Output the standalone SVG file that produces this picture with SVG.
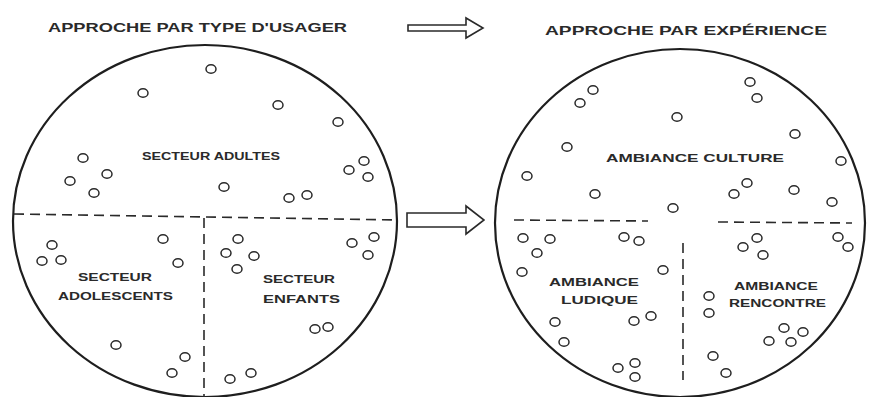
<svg xmlns="http://www.w3.org/2000/svg" xmlns:xlink="http://www.w3.org/1999/xlink" width="871" height="397" viewBox="0 0 871 397">
<defs>
<style>
.bg{fill:#ffffff}
.outline{fill:none;stroke:#1e1e1e;stroke-width:2.2}
.dash{fill:none;stroke:#2a2a2a;stroke-width:1.6;stroke-dasharray:10 6}
.dot{fill:none;stroke:#2a2a2a;stroke-width:1.5}
.arrow{fill:#ffffff;stroke:#2a2a2a;stroke-width:1.6;stroke-linejoin:miter}
.t{font-family:"Liberation Sans",Arial,sans-serif;font-weight:bold;fill:#2a2a2a}
.title{font-size:13px}
.lab{font-size:10.5px}
</style>
<ellipse id="d" cx="0" cy="0" rx="5" ry="4.3" class="dot"/>
</defs>
<rect class="bg" x="0" y="0" width="871" height="397"/>

<g id="title-left"><text class="t title" x="48" y="32" textLength="299" lengthAdjust="spacingAndGlyphs">APPROCHE PAR TYPE D'USAGER</text></g>
<g id="title-right"><text class="t title" x="545" y="35" textLength="282" lengthAdjust="spacingAndGlyphs">APPROCHE PAR EXPÉRIENCE</text></g>

<g id="left-circle">
<ellipse class="outline" cx="205" cy="221" rx="192" ry="176"/>
<path class="dash" d="M14 214 L397 220"/>
<path class="dash" d="M204 218 L204 397"/>
<g id="secteur-adultes"><text class="t lab" x="142" y="160" textLength="138" lengthAdjust="spacingAndGlyphs">SECTEUR ADULTES</text></g>
<g id="secteur-adolescents"><text class="t lab" x="78" y="281" textLength="74" lengthAdjust="spacingAndGlyphs">SECTEUR</text><text class="t lab" x="58" y="300" textLength="115" lengthAdjust="spacingAndGlyphs">ADOLESCENTS</text></g>
<g id="secteur-enfants"><text class="t lab" x="263" y="283" textLength="72" lengthAdjust="spacingAndGlyphs">SECTEUR</text><text class="t lab" x="263" y="303" textLength="77" lengthAdjust="spacingAndGlyphs">ENFANTS</text></g>
<g id="left-dots">
<use xlink:href="#d" x="211" y="69"/><use xlink:href="#d" x="143" y="93"/><use xlink:href="#d" x="278" y="105"/><use xlink:href="#d" x="338" y="122"/>
<use xlink:href="#d" x="83" y="158"/><use xlink:href="#d" x="107" y="174"/><use xlink:href="#d" x="70" y="181"/><use xlink:href="#d" x="94" y="193"/>
<use xlink:href="#d" x="224" y="187"/><use xlink:href="#d" x="289" y="198"/><use xlink:href="#d" x="307" y="195"/>
<use xlink:href="#d" x="364" y="161"/><use xlink:href="#d" x="349" y="170"/><use xlink:href="#d" x="368" y="177"/>
<use xlink:href="#d" x="52" y="245"/><use xlink:href="#d" x="42" y="261"/><use xlink:href="#d" x="61" y="260"/><use xlink:href="#d" x="163" y="239"/><use xlink:href="#d" x="178" y="263"/>
<use xlink:href="#d" x="116" y="345"/><use xlink:href="#d" x="185" y="357"/><use xlink:href="#d" x="172" y="373"/>
<use xlink:href="#d" x="238" y="239"/><use xlink:href="#d" x="226" y="253"/><use xlink:href="#d" x="254" y="256"/><use xlink:href="#d" x="237" y="269"/>
<use xlink:href="#d" x="352" y="243"/><use xlink:href="#d" x="374" y="237"/><use xlink:href="#d" x="368" y="255"/>
<use xlink:href="#d" x="315" y="329"/><use xlink:href="#d" x="328" y="327"/><use xlink:href="#d" x="230" y="379"/><use xlink:href="#d" x="251" y="373"/>
</g>
</g>

<g id="right-circle">
<ellipse class="outline" cx="680" cy="223" rx="185" ry="174"/>
<path class="dash" d="M514 220 L648 221"/>
<path class="dash" d="M718 222 L852 223"/>
<path class="dash" d="M683 243 L683 380"/>
<g id="ambiance-culture"><text class="t lab" x="606" y="162" textLength="178" lengthAdjust="spacingAndGlyphs">AMBIANCE CULTURE</text></g>
<g id="ambiance-ludique"><text class="t lab" x="549" y="286" textLength="90" lengthAdjust="spacingAndGlyphs">AMBIANCE</text><text class="t lab" x="561" y="304" textLength="77" lengthAdjust="spacingAndGlyphs">LUDIQUE</text></g>
<g id="ambiance-rencontre"><text class="t lab" x="734" y="290" textLength="84" lengthAdjust="spacingAndGlyphs">AMBIANCE</text><text class="t lab" x="729" y="307" textLength="97" lengthAdjust="spacingAndGlyphs">RENCONTRE</text></g>
<g id="right-dots">
<use xlink:href="#d" x="593" y="90"/><use xlink:href="#d" x="580" y="103"/><use xlink:href="#d" x="750" y="82"/><use xlink:href="#d" x="757" y="98"/>
<use xlink:href="#d" x="677" y="117"/><use xlink:href="#d" x="795" y="134"/><use xlink:href="#d" x="567" y="147"/><use xlink:href="#d" x="841" y="161"/>
<use xlink:href="#d" x="527" y="176"/><use xlink:href="#d" x="595" y="194"/><use xlink:href="#d" x="747" y="183"/><use xlink:href="#d" x="734" y="194"/>
<use xlink:href="#d" x="794" y="190"/><use xlink:href="#d" x="832" y="202"/><use xlink:href="#d" x="673" y="208"/>
<use xlink:href="#d" x="523" y="238"/><use xlink:href="#d" x="550" y="239"/><use xlink:href="#d" x="537" y="253"/><use xlink:href="#d" x="522" y="272"/>
<use xlink:href="#d" x="624" y="237"/><use xlink:href="#d" x="639" y="241"/><use xlink:href="#d" x="663" y="270"/>
<use xlink:href="#d" x="555" y="322"/><use xlink:href="#d" x="564" y="342"/><use xlink:href="#d" x="634" y="321"/><use xlink:href="#d" x="651" y="316"/>
<use xlink:href="#d" x="618" y="368"/><use xlink:href="#d" x="635" y="363"/><use xlink:href="#d" x="635" y="377"/>
<use xlink:href="#d" x="757" y="238"/><use xlink:href="#d" x="743" y="247"/><use xlink:href="#d" x="763" y="255"/><use xlink:href="#d" x="838" y="237"/><use xlink:href="#d" x="848" y="247"/>
<use xlink:href="#d" x="709" y="296"/><use xlink:href="#d" x="709" y="313"/><use xlink:href="#d" x="784" y="328"/><use xlink:href="#d" x="803" y="332"/>
<use xlink:href="#d" x="769" y="341"/><use xlink:href="#d" x="791" y="342"/><use xlink:href="#d" x="713" y="356"/><use xlink:href="#d" x="726" y="373"/>
</g>
</g>

<g id="connectors">
<polygon class="arrow" points="408,25 466,25 466,18 483,28 466,38 466,31 408,31"/>
<polygon class="arrow" points="407,213 466,213 466,206 484,220 466,234 466,227 407,227"/>
</g>
</svg>
